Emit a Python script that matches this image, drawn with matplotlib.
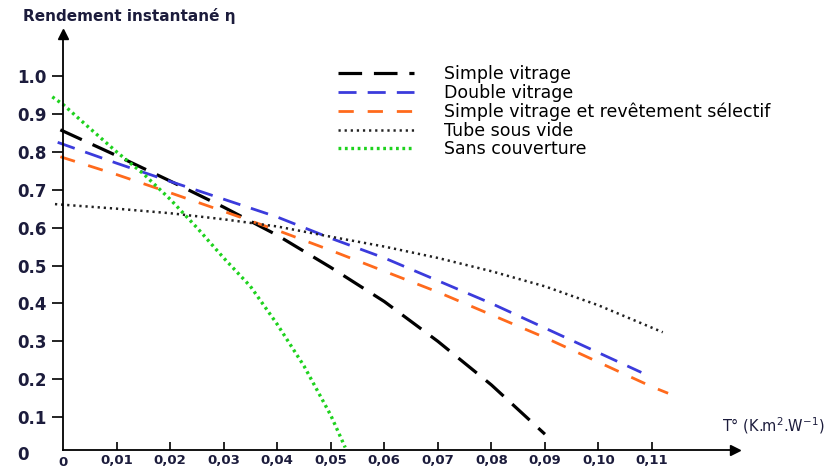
import numpy as np
import matplotlib
matplotlib.use("Agg")
import matplotlib.pyplot as plt

plt.rcParams['lines.scale_dashes'] = False
plt.rcParams['font.family'] = ['DejaVu Sans']

# courbes : T* (K.m2/W) -> rendement
x_simple = [-0.0005, 0.01, 0.02, 0.03, 0.04, 0.05, 0.06, 0.07, 0.08, 0.09]
y_simple = [0.858, 0.79, 0.723, 0.654, 0.58, 0.495, 0.405, 0.30, 0.185, 0.055]

x_double = [-0.001, 0.01, 0.02, 0.03, 0.04, 0.05, 0.06, 0.07, 0.08, 0.09, 0.10, 0.108]
y_double = [0.825, 0.77, 0.722, 0.675, 0.628, 0.572, 0.52, 0.46, 0.40, 0.335, 0.27, 0.218]

x_select = [-0.0005, 0.01, 0.02, 0.03, 0.04, 0.05, 0.06, 0.07, 0.08, 0.09, 0.10, 0.11, 0.113]
y_select = [0.787, 0.74, 0.692, 0.643, 0.593, 0.54, 0.485, 0.43, 0.37, 0.31, 0.245, 0.18, 0.163]

x_tube = [-0.0015, 0.01, 0.02, 0.03, 0.04, 0.05, 0.06, 0.07, 0.08, 0.09, 0.10, 0.112]
y_tube = [0.662, 0.65, 0.638, 0.622, 0.603, 0.576, 0.55, 0.52, 0.485, 0.445, 0.395, 0.324]

x_sans = [-0.002, 0.0, 0.005, 0.01, 0.015, 0.02, 0.025, 0.03, 0.035, 0.04, 0.045, 0.05, 0.0527]
y_sans = [0.945, 0.925, 0.862, 0.80, 0.742, 0.675, 0.60, 0.52, 0.445, 0.345, 0.235, 0.105, 0.02]

labels = ["Simple vitrage", "Double vitrage",
          "Simple vitrage et revêtement sélectif", "Tube sous vide",
          "Sans couverture"]

xticks = [0.01, 0.02, 0.03, 0.04, 0.05, 0.06, 0.07, 0.08, 0.09, 0.10, 0.11]
xticklabels = ["0,01", "0,02", "0,03", "0,04", "0,05", "0,06", "0,07",
               "0,08", "0,09", "0,10", "0,11"]
yticks = [0.1, 0.2, 0.3, 0.4, 0.5, 0.6, 0.7, 0.8, 0.9, 1.0]

fig = plt.figure(figsize=(8.27, 4.70), dpi=100)
ax = fig.add_axes([0.0503, 0.0157, 0.8385, 0.9113])
ax.set_xlim(-0.004, 0.1255)
ax.set_ylim(-0.02, 1.11)

y_axis = 0.013

ax.plot(x_simple, y_simple, color='black', lw=2.3, dashes=[17, 8.5], label=labels[0])
ax.plot(x_double, y_double, color='#3b3bdc', lw=2.0, dashes=[13, 8], label=labels[1])
ax.plot(x_select, y_select, color='#ff6a1c', lw=2.0, dashes=[11, 10], label=labels[2])
ax.plot(x_tube, y_tube, color='#222222', lw=1.8, dashes=[1.6, 2.8], label=labels[3])
ax.plot(x_sans, y_sans, color='#1ed21e', lw=2.4, dashes=[2.0, 2.6], label=labels[4])

for s in ['top', 'right']:
    ax.spines[s].set_visible(False)
ax.spines['left'].set_position(('data', 0))
ax.spines['bottom'].set_position(('data', y_axis))
ax.spines['left'].set_bounds(y_axis, 1.105)
ax.spines['bottom'].set_bounds(0, 0.1245)
for s in ['left', 'bottom']:
    ax.spines[s].set_linewidth(1.3)

ax.plot(0, 1.11, '^k', ms=7, clip_on=False)
ax.plot(0.1255, y_axis, '>k', ms=7, clip_on=False)

tick_col = '#1c1c3c'
ax.set_xticks(xticks)
ax.set_xticklabels(xticklabels, fontsize=9.5, fontweight='bold', color=tick_col)
ax.tick_params(axis='x', direction='in', length=6, width=1.2, pad=3)
ax.set_yticks(yticks)
ax.set_yticklabels(["%.1f" % v for v in yticks], fontsize=12, fontweight='bold', color=tick_col)
ax.tick_params(axis='y', direction='out', length=8, width=1.2, pad=4)

# zéros des deux axes
ax.text(-0.0075, 0.0, "0", fontsize=12, fontweight='bold', color=tick_col,
        ha='center', va='center')
fig.text(63 / 827, 1 - 462 / 470, "0", fontsize=9.5, fontweight='bold',
         color=tick_col, ha='center', va='center')

fig.text(23 / 827, 1 - 16 / 470, "Rendement instantané η", fontsize=11,
         fontweight='bold', color=tick_col, ha='left', va='center')
fig.text(722 / 827, 1 - 426 / 470, "T° (K.m$^{2}$.W$^{-1}$)", fontsize=10.5,
         color=tick_col, ha='left', va='center')

ax.legend(loc='upper left', bbox_to_anchor=(338 / 827, 1 - 65 / 470),
          bbox_transform=fig.transFigure, frameon=False, fontsize=12.5,
          handlelength=4.4, handletextpad=1.7, labelspacing=0.04,
          borderpad=0, borderaxespad=0)

fig.savefig("out.png", dpi=100)
